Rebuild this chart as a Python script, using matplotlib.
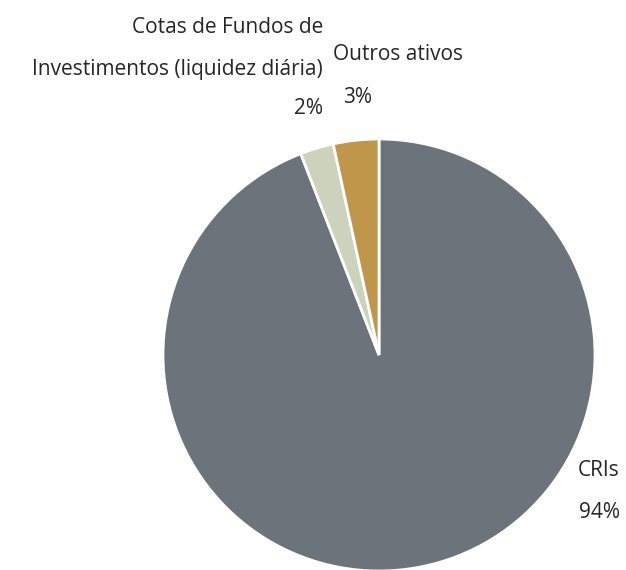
import matplotlib
matplotlib.use("Agg")
import matplotlib.pyplot as plt

categories = ["CRIs", "Cotas de Fundos de\nInvestimentos (liquidez diária)", "Outros ativos"]
values = [94.1, 2.5, 3.4]
pct_labels = ["94%", "2%", "3%"]
colors = ["#6d737a", "#ccd2bb", "#c0964b"]

W, H = 626, 570
fig = plt.figure(figsize=(W / 100, H / 100), dpi=100)
fig.patch.set_facecolor("white")

cx, cy, r = 379, 355, 216
ax = fig.add_axes([(cx - r) / W, (H - cy - r) / H, 2 * r / W, 2 * r / H])
ax.pie(values, colors=colors, startangle=90, counterclock=False,
       wedgeprops=dict(edgecolor="white", linewidth=2))
ax.set_xlim(-1, 1)
ax.set_ylim(-1, 1)
ax.set_aspect("equal")
ax.axis("off")

plt.rcParams['font.family'] = ['Open Sans', 'DejaVu Sans']
fs = 15
tc = "#262626"

def ptext(x, y, s, ha):
    fig.text(x / W, 1 - y / H, s, ha=ha, va="baseline", fontsize=fs, color=tc,
             family=['Open Sans', 'DejaVu Sans'])

# Cotas label (right aligned block)
c_lines = categories[1].split("\n")
ptext(323, 33, c_lines[0], "right")
ptext(323, 75, c_lines[1], "right")
ptext(323, 114, pct_labels[1], "right")
# Outros
ptext(333, 60, categories[2], "left")
ptext(358, 103, pct_labels[2], "center")
# CRIs
ptext(599, 476, categories[0], "center")
ptext(600, 518, pct_labels[0], "center")

fig.savefig("out.png", dpi=100)
